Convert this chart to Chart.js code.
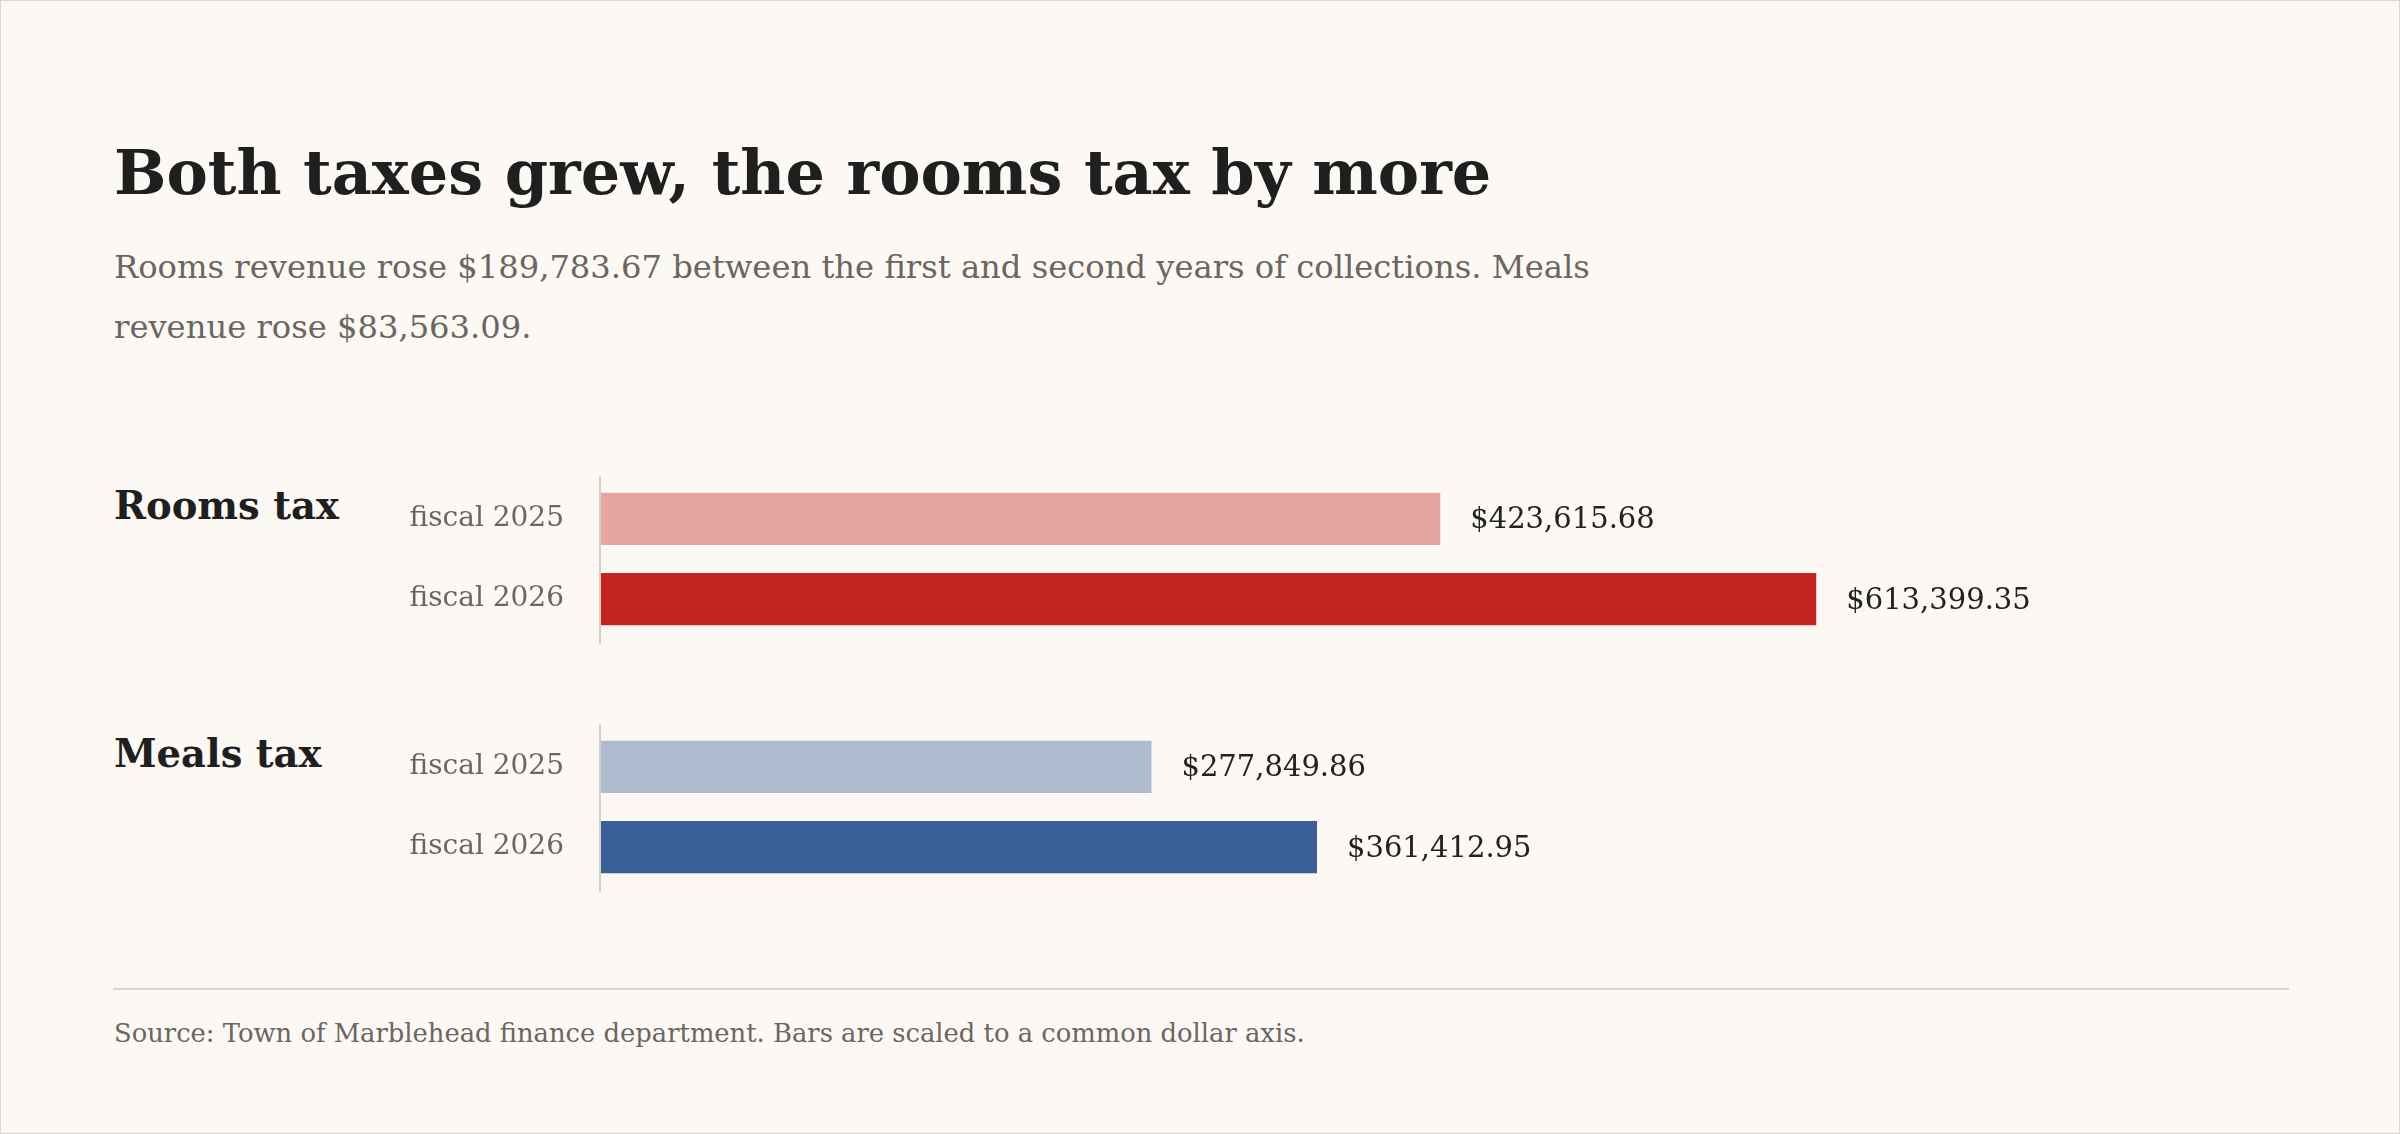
<!DOCTYPE html>
<html>
<head>
<meta charset="utf-8">
<script src="https://cdn.jsdelivr.net/npm/chart.js@4.4.1/dist/chart.umd.min.js"></script>
<style>
  html, body { margin: 0; padding: 0; background: #fcf9f5; }
  #page {
    position: relative; width: 2400px; height: 1134px; box-sizing: border-box;
    border: 1px solid #dcd6ce; background: #fcf9f5; overflow: hidden;
    font-family: 'DejaVu Serif', serif;
  }
  .abs { position: absolute; white-space: nowrap; }
  #title { left: 113px; top: 141px; font-size: 62px; line-height: 62px; font-weight: bold; color: #1f1f1f; }
  #sub { left: 113px; top: 236px; font-size: 32.2px; line-height: 60px; color: #6b6661; white-space: normal; width: 1560px; }
  .group { left: 113px; font-size: 38.5px; line-height: 38px; font-weight: bold; color: #1f1f1f; }
  #rule { left: 112px; top: 987px; width: 2176px; height: 2px; background: #dbd5cd; }
  #foot { left: 113px; top: 1019px; font-size: 25.8px; line-height: 26px; color: #6b6661; }
  canvas.panel { position: absolute; left: 300px; }
</style>
</head>
<body>
<div id="page">
  <div id="title" class="abs">Both taxes grew, the rooms tax by more</div>
  <div id="sub" class="abs">Rooms revenue rose $189,783.67 between the first and second years of collections. Meals revenue rose $83,563.09.</div>

  <div class="abs group" style="top: 486px;">Rooms tax</div>
  <canvas id="rooms" class="panel" width="1984" height="200"></canvas>

  <div class="abs group" style="top: 734px;">Meals tax</div>
  <canvas id="meals" class="panel" width="1984" height="200"></canvas>

  <div id="rule" class="abs"></div>
  <div id="foot" class="abs">Source: Town of Marblehead finance department. Bars are scaled to a common dollar axis.</div>
</div>

<script>
// fiscal years shown for each tax
const years = ['fiscal 2025', 'fiscal 2026'];

// revenue collected, dollars
const roomsValues = [423615.68, 613399.35];
const mealsValues = [277849.86, 361412.95];

const roomsColors = ['#e5a5a0', '#c2241e'];
const mealsColors = ['#aebbcf', '#385f96'];

// common dollar axis for both panels
const axisMax = 850000;

Chart.defaults.font.family = "'DejaVu Serif', serif";

const money = v => '$' + v.toLocaleString('en-US', { minimumFractionDigits: 2, maximumFractionDigits: 2 });

// value label to the right of each bar
const valueLabels = {
  id: 'valueLabels',
  afterDatasetsDraw(chart) {
    const ctx = chart.ctx;
    const ds = chart.data.datasets[0];
    ctx.save();
    ctx.font = '29px "DejaVu Serif", serif';
    ctx.fillStyle = '#222222';
    ctx.textAlign = 'left';
    ctx.textBaseline = 'middle';
    chart.getDatasetMeta(0).data.forEach((bar, i) => {
      ctx.fillText(money(ds.data[i]), bar.x + 30, bar.y + 2);
    });
    ctx.restore();
  }
};

// thin baseline at zero, a little longer than the bars' band
const zeroLine = {
  id: 'zeroLine',
  beforeDatasetsDraw(chart) {
    const { ctx, chartArea } = chart;
    const x = chart.scales.x.getPixelForValue(0);
    ctx.save();
    ctx.strokeStyle = '#d6cfc7';
    ctx.lineWidth = 2;
    ctx.beginPath();
    ctx.moveTo(x - 1, chartArea.top - 2);
    ctx.lineTo(x - 1, chartArea.bottom + 5);
    ctx.stroke();
    ctx.restore();
  }
};

// plot band: top edge on the page and height (two rows of 80px)
function makeChart(id, values, colors, bandTop) {
  const canvas = document.getElementById(id);
  const chart = new Chart(canvas, {
    type: 'bar',
    data: {
      labels: years,
      datasets: [{
        data: values,
        backgroundColor: colors,
        borderWidth: 0,
        barPercentage: 0.65,
        categoryPercentage: 1
      }]
    },
    options: {
      indexAxis: 'y',
      responsive: false,
      maintainAspectRatio: false,
      devicePixelRatio: 1,
      animation: false,
      layout: { padding: 0 },
      plugins: { legend: { display: false }, tooltip: { enabled: false } },
      scales: {
        x: { display: false, min: 0, max: axisMax },
        y: {
          grid: { display: false, drawTicks: true, tickLength: 37 },
          border: { display: false },
          ticks: { color: '#6b6661', font: { size: 28 }, padding: 0 },
          afterFit(axis) { axis.width = 300; }
        }
      }
    },
    plugins: [zeroLine, valueLabels]
  });
  // size the canvas so the plot band is 160px tall, then place it on the page
  const extra = chart.height - (chart.chartArea.bottom - chart.chartArea.top);
  chart.resize(1984, Math.round(160 + extra));
  canvas.style.top = Math.round(bandTop - chart.chartArea.top) + 'px';
  return chart;
}

makeChart('rooms', roomsValues, roomsColors, 478);
makeChart('meals', mealsValues, mealsColors, 726);
</script>
</body>
</html>
